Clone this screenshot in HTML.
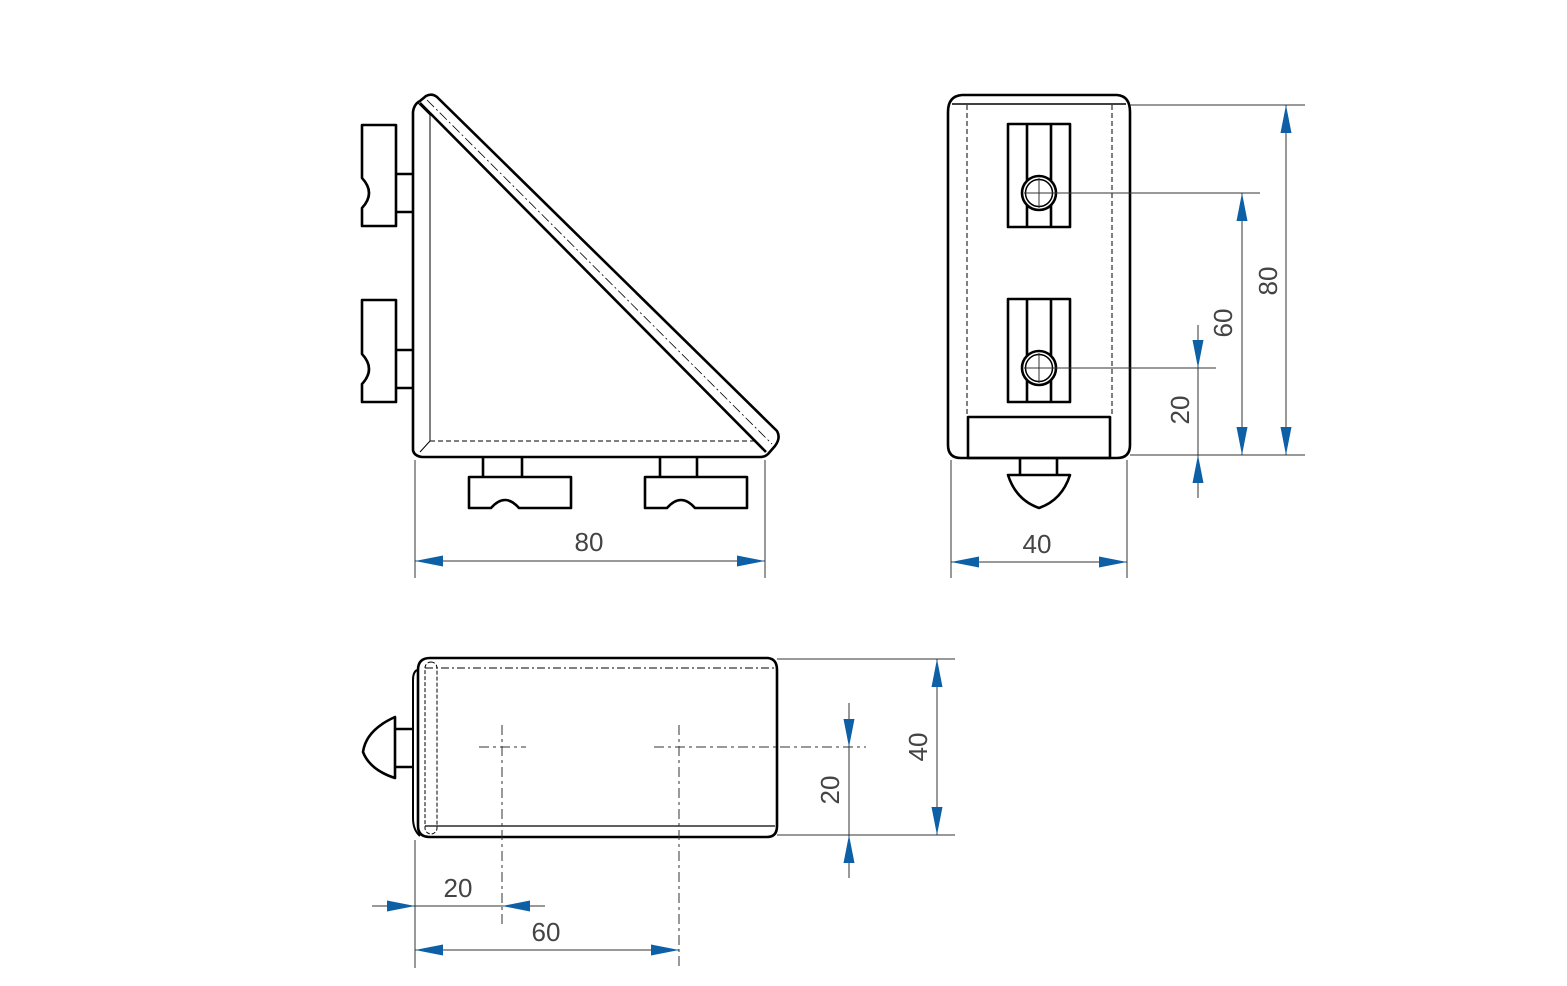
<!DOCTYPE html>
<html><head><meta charset="utf-8"><style>body{margin:0;background:#fff}svg{display:block}</style></head>
<body>
<svg width="1567" height="986" viewBox="0 0 1567 986" xmlns="http://www.w3.org/2000/svg">
<defs><path id="a" d="M0,0 L-28,-5.5 L-28,5.5Z" fill="#0d5fa6"/></defs>
<g fill="none" stroke="#000" stroke-width="2.6" stroke-linejoin="round">
<!-- FRONT VIEW -->
<path d="M413,450 L413,112 Q414,104 420,101 L426,96 Q432,93 437,97 L777,431 Q781,438 775,446 L768,454 Q765,457 760,457 L422,457 Q414,456 413,450Z"/>
<line x1="420" y1="103" x2="766" y2="452"/>
<path d="M430,115 L430,441 L420,452" stroke-width="1"/>
<line x1="430" y1="441" x2="756" y2="441" stroke-width="1" stroke-dasharray="5,3"/>
<line x1="427" y1="100" x2="772" y2="444" stroke-width="0.8" stroke-dasharray="10,3,2,3"/>
<line x1="430" y1="115" x2="418" y2="103" stroke-width="1"/>
<!-- bottom slots -->
<path d="M483,457 V477 M522,457 V477"/>
<path d="M469,477 H571 V508 H519 Q505,492 491,508 H469Z"/>
<path d="M660,457 V477 M697,457 V477"/>
<path d="M645,477 H747 V508 H695 Q681,492 667,508 H645Z"/>
<!-- left slots -->
<path d="M396,174 H413 M396,212 H413"/>
<path d="M362,125 H396 V226 H362 V208 Q376,193 362,178Z"/>
<path d="M396,350 H413 M396,388 H413"/>
<path d="M362,300 H396 V402 H362 V384 Q376,369 362,354Z"/>
<!-- SIDE VIEW -->
<path d="M948,112 Q948,96 962,95 L1117,95 Q1130,96 1130,112 L1130,445 Q1130,458 1117,458 L961,458 Q948,458 948,445Z"/>
<path d="M952,104 L1126,104" stroke-width="1.5"/>
<line x1="967" y1="105" x2="967" y2="417" stroke-width="1" stroke-dasharray="5,3"/>
<line x1="1112" y1="105" x2="1112" y2="417" stroke-width="1" stroke-dasharray="5,3"/>
<rect x="1008" y="124" width="62" height="103"/>
<path d="M1027,124 V227 M1051,124 V227"/>
<circle cx="1039" cy="193" r="17" fill="#fff"/><circle cx="1039" cy="193" r="13.5" stroke-width="1.5"/>
<rect x="1008" y="299" width="62" height="103"/>
<path d="M1027,299 V402 M1051,299 V402"/>
<circle cx="1039" cy="368" r="17" fill="#fff"/><circle cx="1039" cy="368" r="13.5" stroke-width="1.5"/>
<rect x="968" y="417" width="142" height="41"/>
<path d="M1020,458 V475 M1057,458 V475"/>
<path d="M1008,475 H1070 Q1062,500 1039,508 Q1016,500 1008,475Z"/>
<!-- TOP VIEW -->
<path d="M418,670 Q418,658 430,658 L768,658 Q777,659 777,670 L777,826 Q777,837 767,837 L430,837 Q418,837 418,826Z"/>
<path d="M417,670 Q413,672 413,680 L413,818 Q413,830 420,836" stroke-width="2"/>
<rect x="425" y="662" width="12" height="172" rx="6" stroke-width="1" stroke-dasharray="4,2"/>
<line x1="425" y1="668" x2="775" y2="668" stroke-width="1" stroke-dasharray="8,3,2,3"/>
<line x1="425" y1="826" x2="775" y2="826" stroke-width="1.2"/>
<path d="M395,729 H413 M395,767 H413"/>
<path d="M395,717 V778 Q370,770 363,752 Q366,730 395,717Z"/>
</g>
<!-- center lines / thin lines -->
<g stroke="#333" stroke-width="1" fill="none">
<path d="M1039,178 V208 M1024,193 H1260"/>
<path d="M1039,353 V383 M1024,368 H1216"/>
<path d="M479,747 H526 M502,725 V924" stroke-dasharray="10,4,3,4"/>
<path d="M654,747 H866 M679,725 V968" stroke-dasharray="10,4,3,4"/>
<!-- extension lines -->
<path d="M415,460 V578 M765,460 V578"/>
<path d="M951,460 V578 M1127,460 V578"/>
<path d="M1130,105 H1305 M1130,455 H1305"/>
<path d="M777,659 H955 M777,835 H955"/>
<path d="M415,840 V968"/>
<!-- dim lines -->
<path d="M415,561 H765"/>
<path d="M951,562 H1127"/>
<path d="M1286,105 V455 M1242,193 V455 M1198,325 V498"/>
<path d="M937,659 V835 M849,703 V878"/>
<path d="M372,906 H545 M415,950 H679"/>
</g>
<!-- arrows -->
<use href="#a" transform="translate(415,561) rotate(180)"/>
<use href="#a" transform="translate(765,561)"/>
<use href="#a" transform="translate(951,562) rotate(180)"/>
<use href="#a" transform="translate(1127,562)"/>
<use href="#a" transform="translate(1286,105) rotate(-90)"/>
<use href="#a" transform="translate(1286,455) rotate(90)"/>
<use href="#a" transform="translate(1242,193) rotate(-90)"/>
<use href="#a" transform="translate(1242,455) rotate(90)"/>
<use href="#a" transform="translate(1198,368) rotate(90)"/>
<use href="#a" transform="translate(1198,455) rotate(-90)"/>
<use href="#a" transform="translate(937,659) rotate(-90)"/>
<use href="#a" transform="translate(937,835) rotate(90)"/>
<use href="#a" transform="translate(849,747) rotate(90)"/>
<use href="#a" transform="translate(849,835) rotate(-90)"/>
<use href="#a" transform="translate(415,906)"/>
<use href="#a" transform="translate(502,906) rotate(180)"/>
<use href="#a" transform="translate(415,950) rotate(180)"/>
<use href="#a" transform="translate(679,950)"/>
<!-- text -->
<g font-family="Liberation Sans, sans-serif" font-size="26" fill="#444" text-anchor="middle">
<text x="589" y="551">80</text>
<text x="1037" y="553">40</text>
<text x="458" y="897">20</text>
<text x="546" y="941">60</text>
<text transform="translate(1277,281) rotate(-90)">80</text>
<text transform="translate(1232,323) rotate(-90)">60</text>
<text transform="translate(1189,410) rotate(-90)">20</text>
<text transform="translate(927,747) rotate(-90)">40</text>
<text transform="translate(839,790) rotate(-90)">20</text>
</g>
</svg>
</body></html>
